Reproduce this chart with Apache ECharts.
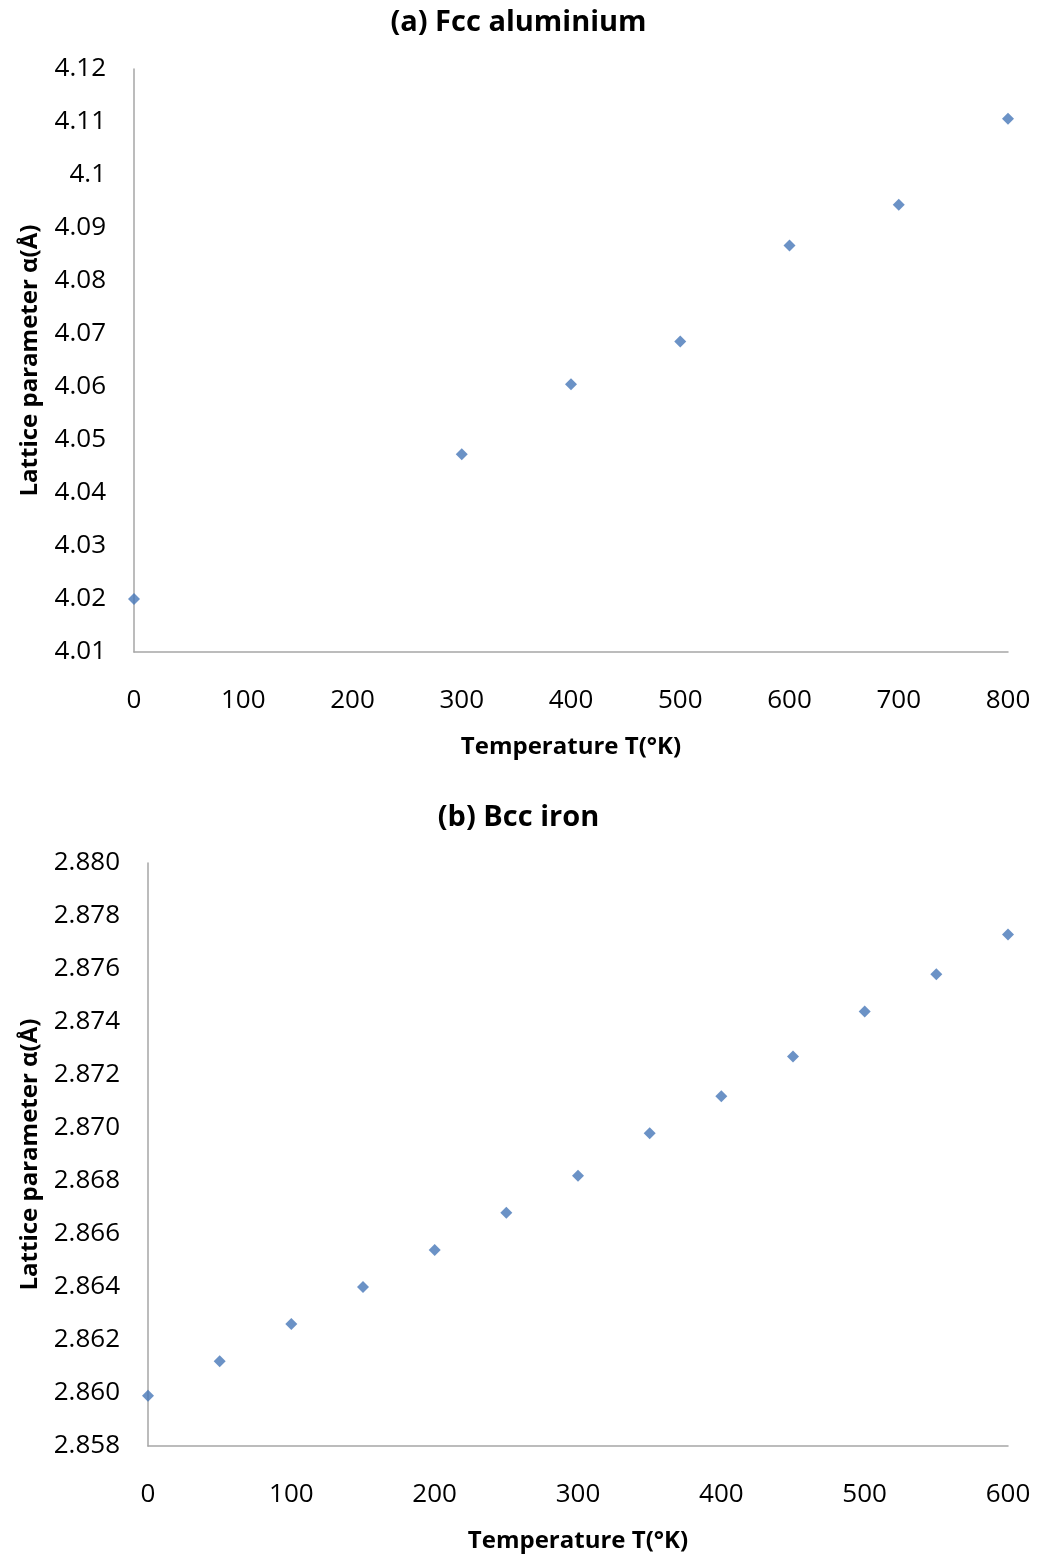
<!DOCTYPE html>
<html>
<head>
<meta charset="utf-8">
<script src="https://cdn.jsdelivr.net/npm/echarts@6/dist/echarts.min.js"></script>
<style>
  html, body { margin: 0; padding: 0; background: #fff; }
  #chart { width: 1037px; height: 1557px; }
</style>
</head>
<body>
<div id="chart"></div>
<script>
// (a) Fcc aluminium: lattice parameter vs temperature
const alTemps = [0, 300, 400, 500, 600, 700, 800];
const alLattice = [4.020, 4.0473, 4.0605, 4.0686, 4.0867, 4.0944, 4.1106];

// (b) Bcc iron: lattice parameter vs temperature
const feTemps = [0, 50, 100, 150, 200, 250, 300, 350, 400, 450, 500, 550, 600];
const feLattice = [2.8599, 2.8612, 2.8626, 2.8640, 2.8654, 2.8668, 2.8682, 2.8698, 2.8712, 2.8727, 2.8744, 2.8758, 2.8773];

const titles = ['(a) Fcc aluminium', '(b) Bcc iron'];
const xName = 'Temperature T(°K)';
const yName = 'Lattice parameter α(Å)';

const FONT = '"Open Sans", "Liberation Sans", sans-serif';
const axisLineStyle = { lineStyle: { color: '#a6a6a6', width: 1.5 } };
const markerColor = '#4677b8';

const chart = echarts.init(document.getElementById('chart'), null, { renderer: 'canvas' });

function xAxisCfg(gridIndex, max) {
  return {
    gridIndex, type: 'value', min: 0, max, interval: 100,
    name: xName, nameLocation: 'middle', nameGap: 83,
    nameTextStyle: { fontFamily: FONT, fontSize: 24, fontWeight: 'bold', color: '#000' },
    axisLine: Object.assign({ show: true }, axisLineStyle),
    axisTick: { show: false }, splitLine: { show: false },
    axisLabel: { fontFamily: FONT, fontSize: 26, color: '#000', margin: 36 }
  };
}

function yAxisCfg(gridIndex, min, max, interval, digits, gap) {
  return {
    gridIndex, type: 'value', min, max, interval,
    name: yName, nameLocation: 'middle', nameGap: gap, nameRotate: 90,
    nameTextStyle: { fontFamily: FONT, fontSize: 24, fontWeight: 'bold', color: '#000' },
    axisLine: Object.assign({ show: true }, axisLineStyle),
    axisTick: { show: false }, splitLine: { show: false },
    axisLabel: {
      fontFamily: FONT, fontSize: 26, color: '#000', margin: 28,
      formatter: v => digits === 3 ? v.toFixed(3) : String(parseFloat(v.toFixed(digits)))
    }
  };
}

chart.setOption({
  animation: false,
  backgroundColor: '#fff',
  title: [
    { text: titles[0], left: 'center', top: 3,
      textStyle: { fontFamily: FONT, fontSize: 29, fontWeight: 'bold', color: '#000' } },
    { text: titles[1], left: 'center', top: 798,
      textStyle: { fontFamily: FONT, fontSize: 29, fontWeight: 'bold', color: '#000' } }
  ],
  grid: [
    { left: 134, right: 29, top: 69, height: 583 },
    { left: 148, right: 29, top: 863, height: 583 }
  ],
  xAxis: [xAxisCfg(0, 800), xAxisCfg(1, 600)],
  yAxis: [yAxisCfg(0, 4.01, 4.12, 0.01, 2, 92), yAxisCfg(1, 2.858, 2.880, 0.002, 3, 106)],
  series: [
    { type: 'scatter', xAxisIndex: 0, yAxisIndex: 0, symbol: 'diamond', symbolSize: 12,
      itemStyle: { color: markerColor }, data: alTemps.map((t, i) => [t, alLattice[i]]) },
    { type: 'scatter', xAxisIndex: 1, yAxisIndex: 1, symbol: 'diamond', symbolSize: 12,
      itemStyle: { color: markerColor }, data: feTemps.map((t, i) => [t, feLattice[i]]) }
  ]
});
</script>
</body>
</html>
